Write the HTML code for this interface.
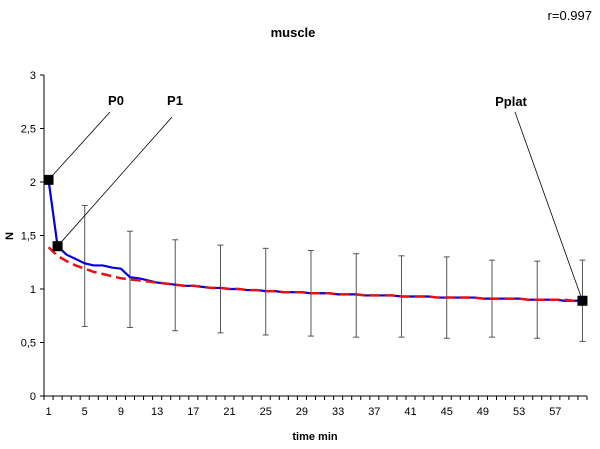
<!DOCTYPE html>
<html><head><meta charset="utf-8"><style>
html,body{margin:0;padding:0;background:#fff;}
svg{display:block;font-family:"Liberation Sans",Arial,sans-serif;}
</style></head><body>
<svg id="chart" width="600" height="449" viewBox="0 0 600 449" xmlns="http://www.w3.org/2000/svg">
<text x="592" y="20" font-size="13" text-anchor="end">r=0.997</text>
<text x="293" y="37" font-size="13" font-weight="bold" text-anchor="middle">muscle</text>
<text x="13" y="236" font-size="11" font-weight="bold" text-anchor="middle" transform="rotate(-90 13 236)">N</text>
<text x="315" y="440" font-size="11" font-weight="bold" text-anchor="middle">time min</text>
<g id="grid"></g>
</svg>
<script>
const categoriesCount = 60;
const yTicks = [0, 0.5, 1, 1.5, 2, 2.5, 3];
const yTickLabels = ["0", "0,5", "1", "1,5", "2", "2,5", "3"];
const xLabelCats = [1,5,9,13,17,21,25,29,33,37,41,45,49,53,57];
const meanValues = [2.02,1.40,1.32,1.28,1.24,1.22,1.22,1.20,1.19,1.11,1.10,1.08,1.06,1.05,1.04,1.03,1.03,1.02,1.01,1.01,1.00,1.00,0.99,0.99,0.98,0.98,0.97,0.97,0.97,0.96,0.96,0.96,0.95,0.95,0.95,0.94,0.94,0.94,0.94,0.93,0.93,0.93,0.93,0.92,0.92,0.92,0.92,0.92,0.91,0.91,0.91,0.91,0.91,0.90,0.90,0.90,0.90,0.89,0.89,0.89];
const fitValues = [1.39,1.31,1.26,1.22,1.19,1.16,1.14,1.12,1.10,1.09,1.08,1.07,1.06,1.05,1.04,1.03,1.03,1.02,1.01,1.01,1.00,1.00,0.99,0.99,0.98,0.98,0.97,0.97,0.97,0.96,0.96,0.96,0.95,0.95,0.95,0.94,0.94,0.94,0.94,0.93,0.93,0.93,0.93,0.92,0.92,0.92,0.92,0.92,0.91,0.91,0.91,0.91,0.91,0.90,0.90,0.90,0.90,0.90,0.89,0.89];
const errCats = [5,10,15,20,25,30,35,40,45,50,55,60];
const errTop = [1.78,1.54,1.46,1.41,1.38,1.36,1.33,1.31,1.30,1.27,1.26,1.27];
const errBottom = [0.65,0.64,0.61,0.59,0.57,0.56,0.55,0.55,0.54,0.55,0.54,0.51];
const markerCats = [1,2,60];
const markerNames = ["P0","P1","Pplat"];
const labelPos = [[116,105,110,112],[175,105,172,117],[511,106,515,112]];

const ns="http://www.w3.org/2000/svg";
const svg=document.getElementById('chart');
const X0=44, W=9.05, Y0=396, YS=107;
function x(c){return X0+(c-0.5)*W;}
function y(v){return Y0-v*YS;}
function mk(t,a,parent){const e=document.createElementNS(ns,t);for(const k in a)e.setAttribute(k,a[k]);(parent||svg).appendChild(e);return e;}

// axes
let e=mk('line',{x1:X0,y1:y(3),x2:X0,y2:Y0,stroke:'#000','stroke-width':1});


e=mk('line',{x1:X0,y1:Y0,x2:X0+categoriesCount*W,y2:Y0,stroke:'#000','stroke-width':1});


yTicks.forEach((v,i)=>{
  let t=mk('line',{x1:X0-4,y1:y(v),x2:X0,y2:y(v),stroke:'#000'});
  
  
  let l=mk('text',{x:X0-8,y:y(v)+4,'font-size':11,'text-anchor':'end'});
  l.textContent=yTickLabels[i];
  
  
});
for(let c=0;c<=categoriesCount;c++){
  let t=mk('line',{x1:X0+c*W,y1:Y0,x2:X0+c*W,y2:Y0+4,stroke:'#000'});
  
  
}
xLabelCats.forEach(c=>{
  let l=mk('text',{x:x(c),y:415,'font-size':11,'text-anchor':'middle'});
  l.textContent=String(c);
  
  
});
// error bars
errCats.forEach((c,i)=>{
  let g=mk('g',{stroke:'#555','stroke-width':1});
  
  
  mk('line',{x1:x(c),y1:y(errTop[i]),x2:x(c),y2:y(errBottom[i])},g);
  mk('line',{x1:x(c)-3,y1:y(errTop[i]),x2:x(c)+3,y2:y(errTop[i])},g);
  mk('line',{x1:x(c)-3,y1:y(errBottom[i]),x2:x(c)+3,y2:y(errBottom[i])},g);
});
// series
let pts=meanValues.map((v,i)=>x(i+1)+','+y(v)).join(' ');
e=mk('polyline',{points:pts,fill:'none',stroke:'#0000e0','stroke-width':2.2});


pts=fitValues.map((v,i)=>x(i+1)+','+y(v)).join(' ');
e=mk('polyline',{points:pts,fill:'none',stroke:'#e81010','stroke-width':2.5,'stroke-dasharray':'10,5'});


// markers & labels
markerCats.forEach((c,i)=>{
  const v=meanValues[c-1];
  const p=labelPos[i];
  let ln=mk('line',{x1:p[2],y1:p[3],x2:x(c),y2:y(v),stroke:'#000','stroke-width':0.8});
  
  
  let r=mk('rect',{x:x(c)-5,y:y(v)-5,width:10,height:10,fill:'#000'});
  
  
  let t=mk('text',{x:p[0],y:p[1],'font-size':13,'font-weight':'bold','text-anchor':'middle'});
  t.textContent=markerNames[i];
  
  
});
</script>
</body></html>
